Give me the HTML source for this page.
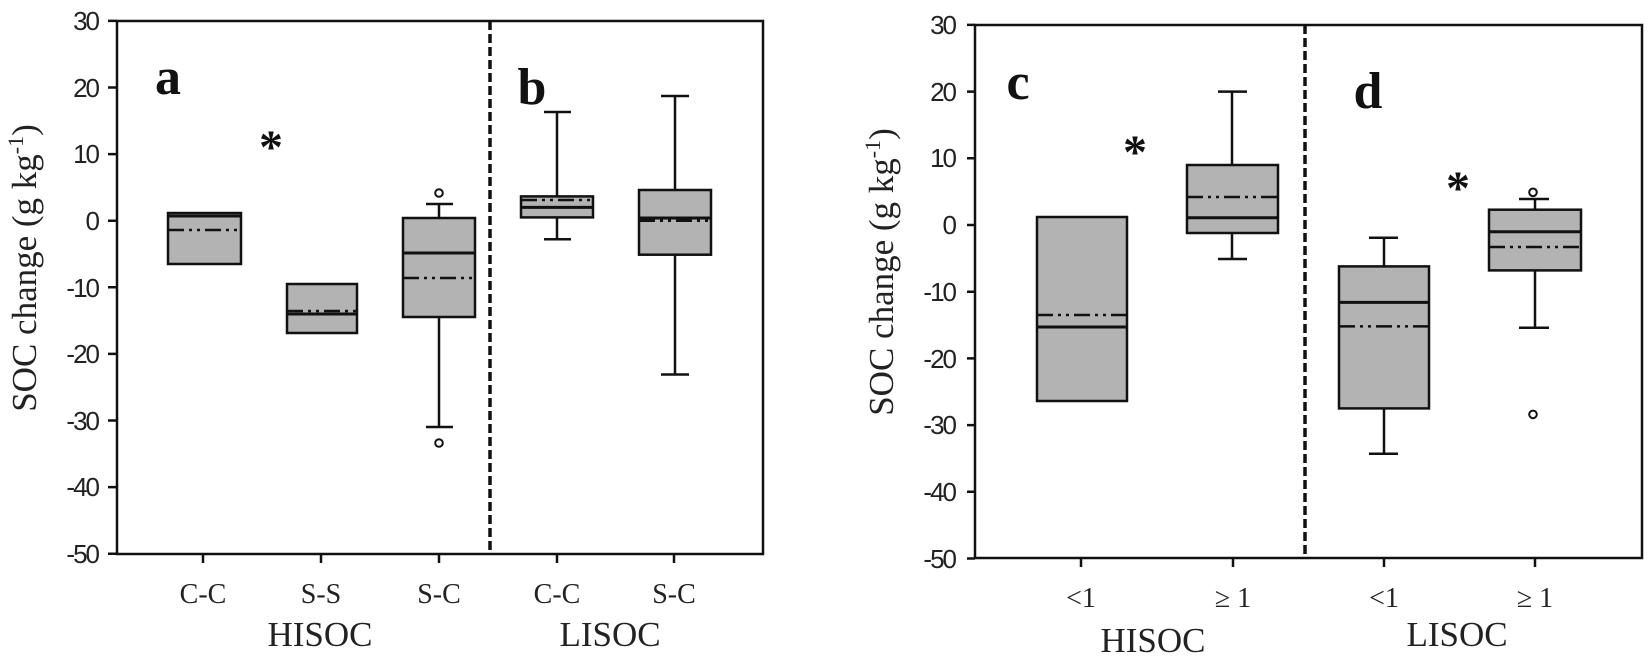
<!DOCTYPE html>
<html><head><meta charset="utf-8"><style>
html,body{margin:0;padding:0;background:#fff;}
svg{display:block;}
.t{font-family:"Liberation Sans",sans-serif;font-size:26px;fill:#222;letter-spacing:-2px;}
.c{font-family:"Liberation Serif",serif;font-size:28px;fill:#222;}
.g{font-family:"Liberation Serif",serif;font-size:35px;fill:#222;}
.l{font-family:"Liberation Serif",serif;font-size:52px;font-weight:bold;fill:#111;}
.y{font-family:"Liberation Serif",serif;font-size:35px;fill:#222;}
</style></head><body>
<svg width="1650" height="664" viewBox="0 0 1650 664" xmlns="http://www.w3.org/2000/svg">
<g stroke="#111" stroke-width="2.5" fill="none">
<rect x="117" y="21" width="646" height="533"/>
<line x1="490" y1="21" x2="490" y2="554" stroke-width="3.5" stroke-dasharray="9,4"/>
<path d="M108 20.9H117M108 87.5H117M108 154.1H117M108 220.7H117M108 287.3H117M108 353.9H117M108 420.5H117M108 487.1H117M108 553.7H117"/>
<path d="M203 554V563M321 554V563M439 554V563M557 554V563M674 554V563"/>
<rect x="975" y="25" width="667" height="533"/>
<line x1="1305" y1="25" x2="1305" y2="558" stroke-width="3.5" stroke-dasharray="9,4"/>
<path d="M967 24.9H975M967 91.6H975M967 158.3H975M967 225H975M967 291.7H975M967 358.4H975M967 425.1H975M967 491.8H975M967 558.5H975"/>
<path d="M1081 558V567M1233 558V567M1384 558V567M1535 558V567"/>
</g>
<g stroke="#111" stroke-width="2.5" fill="#b3b3b3">
<rect x="168" y="213" width="73" height="51"/>
<rect x="287" y="284" width="70" height="49"/>
<rect x="403" y="218" width="72" height="99"/>
<rect x="521" y="196.4" width="72" height="21"/>
<rect x="639" y="190" width="72" height="64.7"/>
<rect x="1037" y="217" width="90" height="184"/>
<rect x="1187" y="165" width="91" height="68"/>
<rect x="1339" y="266.4" width="90" height="142"/>
<rect x="1489" y="209.7" width="92" height="60.7"/>
</g>
<g stroke="#111" stroke-width="2.5" fill="none">
<path d="M168 216H241M287 314H357M403 253H475M521 207.4H593M639 218H711M1037 327H1127M1187 217.7H1278M1339 302.4H1429M1489 231.7H1581" stroke-width="3"/>
<g stroke-dasharray="16,5,3,5,3,5">
<path d="M168 230H241M287 311H357M403 278H475M521 200H593M639 220.7H711M1037 315H1127M1187 197H1278M1339 326.4H1429M1489 247H1581"/>
</g>
<path d="M439 218V204M426 204H453M439 317V427M426 427H453"/>
<path d="M557 196.4V112M544 112H571M557 217.4V239.3M544 239.3H571"/>
<path d="M675 190V96M661 96H689M675 254.7V374.5M661 374.5H689"/>
<path d="M1232 165V91.6M1218 91.6H1247M1232 233V259M1218 259H1247"/>
<path d="M1384 266.4V237.7M1369 237.7H1398M1384 408.4V453.8M1369 453.8H1398"/>
<path d="M1535 209.7V199M1519 199H1549M1535 270.4V327.7M1519 327.7H1549"/>
<g stroke-width="2"><circle cx="439" cy="193" r="3.8"/><circle cx="439" cy="443" r="3.8"/><circle cx="1533" cy="192.3" r="3.8"/><circle cx="1533" cy="414.4" r="3.8"/></g>
</g>
<g class="t" text-anchor="end">
<text x="98" y="30">30</text><text x="98" y="97">20</text><text x="98" y="163">10</text><text x="98" y="230">0</text><text x="98" y="297">-10</text><text x="98" y="363">-20</text><text x="98" y="430">-30</text><text x="98" y="496">-40</text><text x="98" y="563">-50</text>
<text x="955" y="34">30</text><text x="955" y="101">20</text><text x="955" y="167">10</text><text x="955" y="234">0</text><text x="955" y="301">-10</text><text x="955" y="368">-20</text><text x="955" y="434">-30</text><text x="955" y="501">-40</text><text x="955" y="568">-50</text>
</g>
<g class="c" text-anchor="middle">
<text x="203" y="603">C-C</text><text x="321" y="603">S-S</text><text x="439" y="603">S-C</text><text x="557" y="603">C-C</text><text x="674" y="603">S-C</text>
<text x="1081" y="607">&lt;1</text><text x="1233" y="607">≥ 1</text><text x="1384" y="607">&lt;1</text><text x="1535" y="607">≥ 1</text>
</g>
<g class="g" text-anchor="middle">
<text x="320" y="646">HISOC</text><text x="610" y="646">LISOC</text>
<text x="1153" y="652">HISOC</text><text x="1457" y="646">LISOC</text>
</g>
<g class="l" text-anchor="middle">
<text x="168" y="94">a</text><text x="532" y="104">b</text><text x="1018" y="99">c</text><text x="1368" y="108">d</text>
</g>
<g class="l" text-anchor="middle" style="font-size:48px">
<text x="271" y="163">*</text><text x="1135" y="168">*</text><text x="1458" y="204">*</text>
</g>
<text class="y" text-anchor="middle" transform="translate(36,268) rotate(-90)">SOC change (g kg<tspan font-size="22" dy="-13">-1</tspan><tspan dy="13">)</tspan></text>
<text class="y" text-anchor="middle" transform="translate(893,272) rotate(-90)">SOC change (g kg<tspan font-size="22" dy="-13">-1</tspan><tspan dy="13">)</tspan></text>
</svg>
</body></html>
